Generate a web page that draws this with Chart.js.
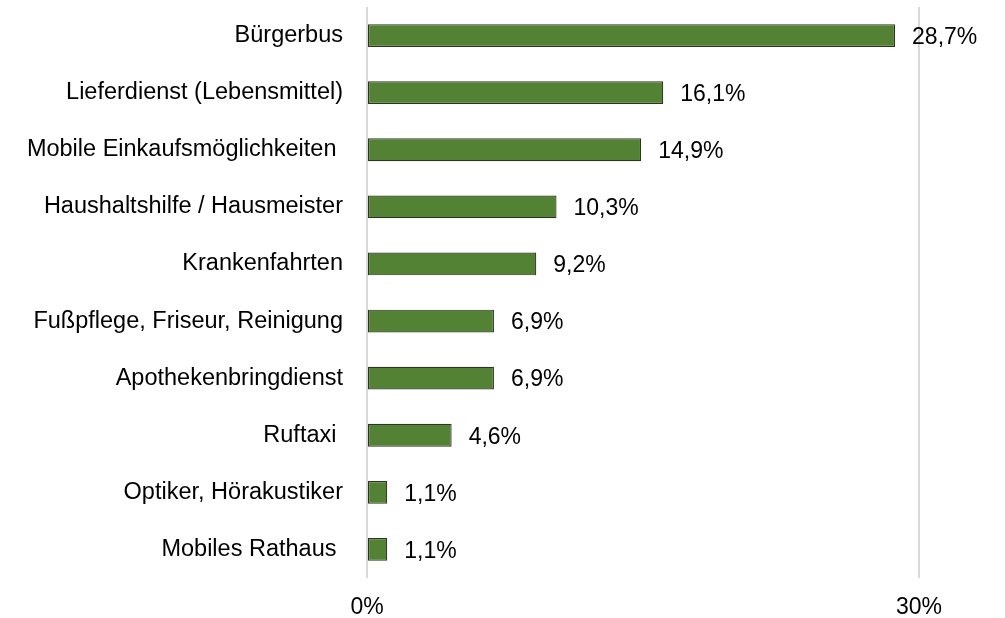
<!DOCTYPE html>
<html>
<head>
<meta charset="utf-8">
<script src="https://cdn.jsdelivr.net/npm/chart.js@4.4.1/dist/chart.umd.min.js"></script>
<style>
  html, body { margin: 0; padding: 0; background: #fff; }
  #wrap { width: 1005px; height: 618px; }
</style>
</head>
<body>
<div id="wrap"><canvas id="angebote"></canvas></div>
<script>
// Angebote (Anteil der Nennungen in %)
const categories = [
  'Bürgerbus',
  'Lieferdienst (Lebensmittel)',
  'Mobile Einkaufsmöglichkeiten ',
  'Haushaltshilfe / Hausmeister',
  'Krankenfahrten',
  'Fußpflege, Friseur, Reinigung',
  'Apothekenbringdienst',
  'Ruftaxi ',
  'Optiker, Hörakustiker',
  'Mobiles Rathaus '
];
const shares = [28.7, 16.1, 14.9, 10.3, 9.2, 6.9, 6.9, 4.6, 1.1, 1.1];
const tickValues = [0, 30];

const fontFamily = '"Liberation Sans", Arial, sans-serif';
const fontSize = 23;

// draws the value next to each bar
const valueLabels = {
  id: 'valueLabels',
  afterDatasetsDraw(chart) {
    const ctx = chart.ctx;
    const meta = chart.getDatasetMeta(0);
    ctx.save();
    ctx.font = fontSize + 'px ' + fontFamily;
    ctx.fillStyle = '#000';
    ctx.textAlign = 'left';
    ctx.textBaseline = 'middle';
    meta.data.forEach(function (bar, i) {
      const txt = shares[i].toFixed(1).replace('.', ',') + '%';
      ctx.fillText(txt, bar.x + 17, bar.y + 2);
    });
    ctx.restore();
  }
};

const ctx = document.getElementById('angebote').getContext('2d');
const chart = new Chart(ctx, {
  type: 'bar',
  data: {
    labels: categories,
    datasets: [{
      data: shares,
      backgroundColor: '#548235',
      borderColor: '#2a3620',
      borderWidth: 1.2,
      borderSkipped: false,
      barPercentage: 0.8,
      categoryPercentage: 0.5
    }]
  },
  options: {
    indexAxis: 'y',
    responsive: true,
    maintainAspectRatio: false,
    animation: false,
    layout: { padding: { top: 7, right: 86, bottom: 0, left: 0 } },
    plugins: {
      legend: { display: false },
      tooltip: { enabled: false }
    },
    scales: {
      x: {
        min: 0,
        max: 30,
        afterBuildTicks(scale) {
          scale.ticks = tickValues.map(v => ({ value: v }));
        },
        afterFit(scale) {
          scale.height = 40;
          scale.paddingLeft = 0;
          scale.paddingRight = 0;
        },
        grid: { color: '#d9d9d9', lineWidth: 2, drawTicks: false },
        border: { display: false },
        ticks: {
          padding: 16,
          color: '#000',
          font: { family: fontFamily, size: fontSize },
          callback: v => v + '%'
        }
      },
      y: {
        afterFit(scale) {
          scale.width = 367;
          scale.paddingTop = 0;
          scale.paddingBottom = 0;
        },
        grid: { display: false },
        border: { display: false },
        ticks: {
          padding: 16,
          color: '#000',
          autoSkip: false,
          font: { family: fontFamily, size: 23.5 }
        }
      }
    }
  },
  plugins: [valueLabels]
});
</script>
</body>
</html>
